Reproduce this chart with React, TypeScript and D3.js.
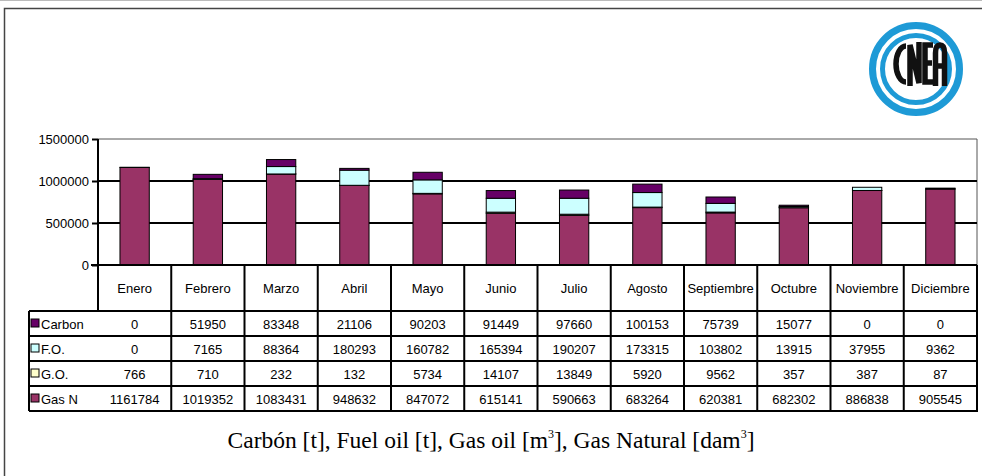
import * as d3 from "d3";
import { useEffect, useRef } from "react";

const W = 982;
const H = 476;

const months = ["Enero", "Febrero", "Marzo", "Abril", "Mayo", "Junio", "Julio", "Agosto", "Septiembre", "Octubre", "Noviembre", "Diciembre"];
const carbon = [0, 51950, 83348, 21106, 90203, 91449, 97660, 100153, 75739, 15077, 0, 0];
const fuelOil = [0, 7165, 88364, 180293, 160782, 165394, 190207, 173315, 103802, 13915, 37955, 9362];
const gasOil = [766, 710, 232, 132, 5734, 14107, 13849, 5920, 9562, 357, 387, 87];
const gasNatural = [1161784, 1019352, 1083431, 948632, 847072, 615141, 590663, 683264, 620381, 682302, 886838, 905545];
const yTicks = [0, 500000, 1000000, 1500000];

// table rows, top to bottom (legend order)
const series = [
  { key: "carbon", label: "Carbon", values: carbon, color: "#660066" },
  { key: "fo", label: "F.O.", values: fuelOil, color: "#ccffff" },
  { key: "go", label: "G.O.", values: gasOil, color: "#ffffcc" },
  { key: "gasn", label: "Gas N", values: gasNatural, color: "#993366" },
];
const stackOrder = ["gasn", "go", "fo", "carbon"];

const plot = { left: 98, right: 977, top: 139, bottom: 265 };
const table = { left: 32, headerBottom: 311, rowH: 25 };
const font = "'Liberation Sans', Arial, sans-serif";

export default function App() {
  const svgRef = useRef<SVGSVGElement>(null);

  useEffect(() => {
    const svg = d3.select(svgRef.current);
    svg.selectAll("*").remove();

    const x = d3.scaleBand().domain(months).range([plot.left, plot.right]);
    const y = d3.scaleLinear().domain([0, 1500000]).range([plot.bottom, plot.top]);

    // outer frame (left + top)
    svg.append("line").attr("x1", 0).attr("x2", W).attr("y1", 0.5).attr("y2", 0.5).attr("stroke", "#bbb");
    svg.append("path").attr("d", `M4.5,${H} V8.5 H${W}`).attr("fill", "none").attr("stroke", "#444").attr("stroke-width", 1.5);

    // plot border
    svg.append("path")
      .attr("d", `M${plot.left},${plot.top} H${plot.right} V${plot.bottom}`)
      .attr("fill", "none").attr("stroke", "#555").attr("stroke-width", 1);

    // grid lines
    svg.append("g").selectAll("line")
      .data(yTicks.filter(t => t > 0 && t < 1500000))
      .join("line")
      .attr("x1", plot.left).attr("x2", plot.right)
      .attr("y1", d => y(d)).attr("y2", d => y(d))
      .attr("stroke", "#000").attr("stroke-width", 2);

    // y axis
    const yAxis = svg.append("g")
      .attr("transform", `translate(${plot.left},0)`)
      .call(d3.axisLeft(y).tickValues(yTicks).tickSize(6).tickPadding(3).tickFormat(d3.format("d")));
    yAxis.select(".domain").remove();
    yAxis.selectAll("line").attr("stroke", "#000").attr("stroke-width", 2);
    yAxis.selectAll("text").attr("font-family", font).attr("font-size", 13).attr("fill", "#000");
    svg.append("line").attr("x1", plot.left).attr("x2", plot.left)
      .attr("y1", plot.top).attr("y2", table.headerBottom)
      .attr("stroke", "#000").attr("stroke-width", 2);

    // stacked bars
    const rows = months.map((m, i) => {
      const r: any = { month: m };
      series.forEach(s => { r[s.key] = s.values[i]; });
      return r;
    });
    const stacked = d3.stack().keys(stackOrder)(rows);
    const colorOf = (k: string) => series.find(s => s.key === k)!.color;
    const bw = x.bandwidth() * 0.4;
    svg.append("g").selectAll("g")
      .data(stacked)
      .join("g")
      .attr("fill", d => colorOf(d.key))
      .selectAll("rect")
      .data(d => d.filter(v => v[1] - v[0] > 0))
      .join("rect")
      .attr("x", d => x(d.data.month as string)! + (x.bandwidth() - bw) / 2)
      .attr("width", bw)
      .attr("y", d => y(d[1]))
      .attr("height", d => y(d[0]) - y(d[1]))
      .attr("stroke", "#000").attr("stroke-width", 1);

    // zero line
    svg.append("line").attr("x1", plot.left - 7).attr("x2", plot.right)
      .attr("y1", plot.bottom).attr("y2", plot.bottom)
      .attr("stroke", "#000").attr("stroke-width", 2);

    // header row (months)
    const tg = svg.append("g");
    const tableBottom = table.headerBottom + table.rowH * series.length;
    months.forEach((m) => {
      tg.append("line")
        .attr("x1", x(m)! + x.bandwidth()).attr("x2", x(m)! + x.bandwidth())
        .attr("y1", plot.bottom).attr("y2", tableBottom)
        .attr("stroke", "#000").attr("stroke-width", 2);
      tg.append("text")
        .attr("x", x(m)! + x.bandwidth() / 2).attr("y", (plot.bottom + table.headerBottom) / 2 + 5)
        .attr("text-anchor", "middle").attr("font-family", font).attr("font-size", 13)
        .text(m);
    });

    // data rows
    series.forEach((s, r) => {
      const top = table.headerBottom + r * table.rowH;
      const cy = top + table.rowH / 2 + 5;
      tg.append("rect").attr("x", table.left - 1).attr("y", top + 8).attr("width", 8).attr("height", 8)
        .attr("fill", s.color).attr("stroke", "#000").attr("stroke-width", 1);
      tg.append("text").attr("x", table.left + 9).attr("y", cy)
        .attr("font-family", font).attr("font-size", 13).text(s.label);
      s.values.forEach((v, i) => {
        tg.append("text")
          .attr("x", x(months[i])! + x.bandwidth() / 2).attr("y", cy)
          .attr("text-anchor", "middle").attr("font-family", font).attr("font-size", 13)
          .text(String(v));
      });
    });
    d3.range(series.length + 1).forEach(r => {
      const yy = table.headerBottom + r * table.rowH;
      tg.append("line").attr("x1", table.left - 3).attr("x2", plot.right + 1)
        .attr("y1", yy).attr("y2", yy).attr("stroke", "#000").attr("stroke-width", 2);
    });
    tg.append("line").attr("x1", table.left - 3).attr("x2", table.left - 3)
      .attr("y1", table.headerBottom).attr("y2", tableBottom)
      .attr("stroke", "#000").attr("stroke-width", 2);

    // caption
    const cap = svg.append("text")
      .attr("x", 491).attr("y", 448).attr("text-anchor", "middle")
      .attr("font-family", "'Liberation Serif', 'Times New Roman', serif").attr("font-size", 23.5);
    cap.append("tspan").text("Carbón [t], Fuel oil [t], Gas oil [m");
    cap.append("tspan").attr("font-size", 12).attr("dy", -10).text("3");
    cap.append("tspan").attr("dy", 10).text("], Gas Natural [dam");
    cap.append("tspan").attr("font-size", 12).attr("dy", -10).text("3");
    cap.append("tspan").attr("dy", 10).text("]");

    // CNEA logo: two blue rings and stroked letters
    const logo = svg.append("g");
    logo.append("circle").attr("cx", 916).attr("cy", 69).attr("r", 43.5)
      .attr("fill", "none").attr("stroke", "#1e9ad6").attr("stroke-width", 7);
    logo.append("circle").attr("cx", 916).attr("cy", 69).attr("r", 33.5)
      .attr("fill", "none").attr("stroke", "#1e9ad6").attr("stroke-width", 5);
    const letters = [
      "M906,46 A10,18 0 0 0 906,82",
      "M910,86 V45 L919,83 V42",
      "M933,45 H925 V82 H933 M925,63 H932",
      "M935.5,86 V53 Q935.5,45 940,45 Q944.5,45 944.5,53 V86 M935.5,66 H944.5",
    ];
    logo.selectAll("path.letter").data(letters).join("path")
      .attr("class", "letter")
      .attr("d", d => d)
      .attr("fill", "none").attr("stroke", "#111").attr("stroke-width", 5.5)
      .attr("stroke-linejoin", "miter");
  }, []);

  return (
    <svg ref={svgRef} width={W} height={H}
      style={{ position: "absolute", left: 0, top: 0, background: "#fff" }} />
  );
}
